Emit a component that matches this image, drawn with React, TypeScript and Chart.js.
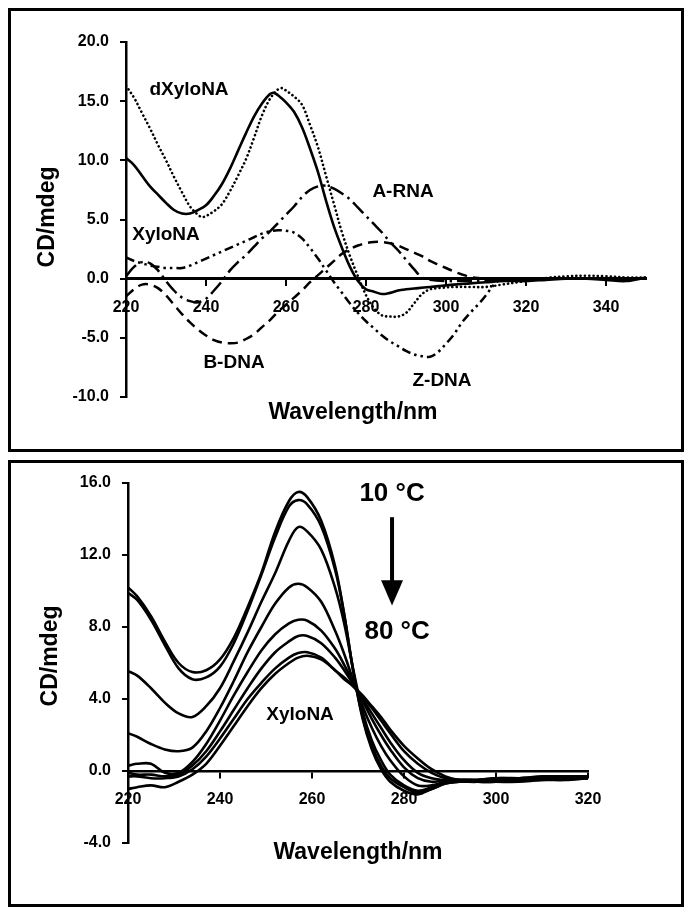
import { useEffect, useRef } from "react";
import { Chart, registerables } from "chart.js";

Chart.register(...registerables);

const FONT = "'Liberation Sans', Arial, Helvetica, sans-serif";

// ---------------- Top panel data (wavelength nm, CD mdeg) ----------------
const topXTicks = [220, 240, 260, 280, 300, 320, 340];
const topYTicks = [-10, -5, 0, 5, 10, 15, 20];

const xyloNA: [number, number][] = [
  [220, 10.2], [222, 9.6], [224, 8.7], [226, 7.8], [228, 7.1], [230, 6.4], [232, 5.8], [234, 5.5],
  [236, 5.5], [238, 5.8], [240, 6.2], [242, 7.0], [244, 8.0], [246, 9.3], [248, 10.8], [250, 12.3],
  [252, 13.7], [254, 14.8], [256, 15.6], [257, 15.7], [258, 15.5], [260, 14.9], [262, 14.1], [264, 12.8],
  [266, 11.0], [268, 9.0], [270, 6.6], [272, 4.4], [274, 2.6], [276, 1.0], [278, -0.2], [280, -0.9],
  [282, -1.1], [284, -1.3], [286, -1.2], [288, -1.0], [290, -0.9], [293, -0.8], [296, -0.7], [299, -0.6],
  [302, -0.5], [306, -0.4], [310, -0.3], [315, -0.2], [320, -0.2], [325, -0.1], [330, 0.0], [335, 0.0],
  [340, -0.1], [345, -0.2], [350, 0.1],
];

const dXyloNA: [number, number][] = [
  [220, 16.3], [222, 15.3], [224, 14.0], [226, 12.7], [228, 11.3], [230, 10.0], [232, 8.6], [234, 7.3],
  [236, 6.1], [238, 5.4], [239, 5.2], [240, 5.3], [242, 5.7], [244, 6.3], [246, 7.4], [248, 8.7],
  [250, 10.1], [252, 11.9], [254, 13.8], [256, 15.2], [258, 16.0], [259, 16.1], [260, 15.9], [262, 15.4],
  [264, 14.7], [266, 13.0], [268, 11.1], [270, 8.7], [272, 6.3], [274, 3.9], [276, 1.9], [278, 0.2],
  [280, -1.4], [282, -2.5], [284, -3.1], [286, -3.2], [288, -3.2], [290, -2.9], [292, -2.1], [294, -1.3],
  [296, -0.9], [298, -0.8], [302, -0.7], [306, -0.7], [310, -0.7], [314, -0.5], [318, -0.3], [322, -0.1],
  [326, 0.1], [330, 0.2], [335, 0.25], [340, 0.2], [345, 0.1], [350, 0.1],
];

const aRNA: [number, number][] = [
  [220, 0.2], [222, 1.0], [224, 1.4], [226, 1.3], [228, 0.7], [230, -0.2], [232, -1.0], [234, -1.6],
  [236, -1.9], [238, -2.0], [240, -1.7], [242, -1.0], [244, -0.2], [246, 0.7], [248, 1.4], [250, 2.0],
  [252, 2.7], [254, 3.4], [256, 4.0], [258, 4.7], [260, 5.4], [262, 6.1], [264, 6.9], [266, 7.5],
  [268, 7.8], [270, 7.85], [272, 7.6], [274, 7.2], [276, 6.7], [278, 6.0], [280, 5.3], [282, 4.6],
  [284, 3.9], [286, 3.1], [288, 2.4], [290, 1.6], [292, 0.8], [294, 0.1], [296, -0.1], [300, -0.2],
  [305, -0.2], [310, -0.2], [315, -0.1], [320, 0.0],
];

const bDNA: [number, number][] = [
  [220, -1.5], [222, -0.9], [224, -0.5], [226, -0.5], [228, -0.8], [230, -1.4], [232, -2.2], [234, -3.0],
  [236, -3.7], [238, -4.3], [240, -4.8], [242, -5.2], [244, -5.4], [246, -5.45], [248, -5.4], [250, -5.1],
  [252, -4.7], [254, -4.1], [256, -3.5], [258, -2.8], [260, -2.2], [262, -1.6], [264, -1.0], [266, -0.3],
  [268, 0.3], [270, 0.9], [272, 1.5], [274, 2.1], [276, 2.5], [278, 2.8], [280, 3.0], [282, 3.1],
  [284, 3.1], [286, 3.0], [288, 2.8], [290, 2.5], [292, 2.2], [294, 1.9], [296, 1.5], [298, 1.2],
  [300, 0.9], [302, 0.6], [304, 0.35], [306, 0.15], [308, 0.05], [310, 0.0], [315, -0.1], [320, 0.0],
];

const zDNA: [number, number][] = [
  [220, 1.8], [222, 1.5], [224, 1.3], [226, 1.1], [228, 1.0], [230, 0.9], [232, 0.9], [234, 0.9],
  [236, 1.1], [238, 1.4], [240, 1.7], [242, 2.0], [244, 2.3], [246, 2.6], [248, 2.9], [250, 3.2],
  [252, 3.5], [254, 3.8], [256, 4.0], [258, 4.1], [260, 4.05], [262, 3.9], [264, 3.4], [266, 2.6],
  [268, 1.7], [270, 0.7], [272, -0.3], [274, -1.2], [276, -2.1], [278, -2.9], [280, -3.6], [282, -4.2],
  [284, -4.8], [286, -5.3], [288, -5.7], [290, -6.1], [292, -6.4], [294, -6.55], [296, -6.6], [298, -6.2],
  [300, -5.5], [302, -4.7], [304, -3.7], [306, -2.9], [308, -2.2], [310, -1.4], [312, -0.5], [314, 0.0],
  [317, 0.0], [320, 0.0],
];

// ---------------- Bottom panel data (temperature series 10 -> 80 °C) ----------------
const bottomXTicks = [220, 240, 260, 280, 300, 320];
const bottomYTicks = [-4, 0, 4, 8, 12, 16];
const bottomWl = [220, 222, 225, 228, 231, 234, 237, 240, 243, 246, 249, 252, 255, 257, 259, 262, 265, 267,
  269, 271, 273, 275, 277, 280, 283, 286, 289, 292, 296, 300, 305, 310, 315, 320];

const cdT1 = [10.2, 9.7, 8.6, 7.2, 6.0, 5.5, 5.6, 6.2, 7.4, 9.1, 11.0, 13.3, 15.0, 15.5, 15.2, 13.9, 11.4, 8.7,
  5.5, 2.9, 1.2, 0.1, -0.6, -1.1, -1.3, -1.0, -0.7, -0.6, -0.5, -0.5, -0.4, -0.4, -0.3, -0.3];
const cdT2 = [9.9, 9.5, 8.4, 7.0, 5.7, 5.1, 5.2, 5.8, 7.1, 8.9, 10.9, 13.0, 14.7, 15.05, 14.8, 13.6, 11.2, 8.7,
  5.5, 3.0, 1.4, 0.3, -0.4, -0.9, -1.2, -1.0, -0.7, -0.6, -0.6, -0.5, -0.5, -0.4, -0.4, -0.4];
const cdT3 = [5.55, 5.3, 4.6, 3.8, 3.2, 3.0, 3.6, 4.6, 6.1, 7.7, 9.4, 11.0, 12.8, 13.55, 13.3, 12.3, 10.2, 8.2,
  5.6, 3.3, 1.7, 0.6, -0.2, -0.8, -1.1, -0.9, -0.6, -0.5, -0.5, -0.4, -0.4, -0.4, -0.3, -0.3];
const cdT4 = [2.1, 1.9, 1.5, 1.2, 1.1, 1.3, 2.2, 3.5, 5.0, 6.6, 8.0, 9.3, 10.2, 10.4, 10.2, 9.4, 7.8, 6.5,
  5.0, 3.6, 2.4, 1.4, 0.6, -0.3, -0.8, -0.8, -0.6, -0.5, -0.5, -0.5, -0.4, -0.4, -0.4, -0.3];
const cdT5 = [0.3, 0.4, 0.4, -0.1, -0.1, 0.5, 1.5, 2.8, 4.2, 5.5, 6.7, 7.6, 8.2, 8.4, 8.35, 7.8, 6.8, 5.9,
  4.9, 3.9, 2.9, 2.0, 1.2, 0.2, -0.4, -0.6, -0.5, -0.5, -0.5, -0.4, -0.4, -0.3, -0.3, -0.3];
const cdT6 = [-0.1, -0.2, -0.2, -0.3, -0.2, 0.3, 1.1, 2.2, 3.4, 4.6, 5.7, 6.6, 7.2, 7.5, 7.5, 7.1, 6.3, 5.6,
  4.8, 4.0, 3.2, 2.4, 1.6, 0.6, -0.1, -0.4, -0.5, -0.5, -0.6, -0.5, -0.5, -0.4, -0.4, -0.4];
const cdT7 = [-0.3, -0.3, -0.4, -0.4, -0.3, 0.1, 0.8, 1.8, 2.9, 4.0, 4.9, 5.7, 6.3, 6.55, 6.6, 6.3, 5.6, 5.2,
  4.7, 4.1, 3.5, 2.8, 2.1, 1.1, 0.4, -0.1, -0.4, -0.5, -0.6, -0.6, -0.5, -0.5, -0.4, -0.4];
const cdT8 = [-1.0, -0.9, -0.8, -0.9, -0.6, -0.2, 0.4, 1.4, 2.5, 3.6, 4.6, 5.4, 6.0, 6.3, 6.4, 6.2, 5.6, 5.1,
  4.7, 4.2, 3.6, 3.0, 2.3, 1.4, 0.7, 0.1, -0.3, -0.5, -0.6, -0.6, -0.6, -0.5, -0.5, -0.4];
const bottomSeries = [cdT1, cdT2, cdT3, cdT4, cdT5, cdT6, cdT7, cdT8];

// ---------------- helpers ----------------
type Note = { text: string; x: number; y: number; size: number };
type Title = { text: string; px: number; py: number; size: number; rotate?: boolean };
type Arrow = { x: number; y0: number; y1: number; headY: number };

const tickFont = { family: FONT, size: 16, weight: "bold" as const };

function notesPlugin(notes: Note[], titles: Title[], arrow?: Arrow) {
  return {
    id: "notes",
    afterDraw(chart: any) {
      const { ctx, scales } = chart;
      const sx = scales.x, sy = scales.y;
      ctx.save();
      ctx.fillStyle = "#000";
      ctx.strokeStyle = "#000";
      ctx.textAlign = "center";
      ctx.textBaseline = "middle";
      for (const n of notes) {
        ctx.font = `bold ${n.size}px ${FONT}`;
        ctx.fillText(n.text, sx.getPixelForValue(n.x), sy.getPixelForValue(n.y));
      }
      for (const t of titles) {
        ctx.font = `bold ${t.size}px ${FONT}`;
        if (t.rotate) {
          ctx.save();
          ctx.translate(t.px, t.py);
          ctx.rotate(-Math.PI / 2);
          ctx.fillText(t.text, 0, 0);
          ctx.restore();
        } else {
          ctx.fillText(t.text, t.px, t.py);
        }
      }
      if (arrow) {
        const ax = sx.getPixelForValue(arrow.x);
        const ay0 = sy.getPixelForValue(arrow.y0);
        const ay1 = sy.getPixelForValue(arrow.y1);
        const ah = sy.getPixelForValue(arrow.headY);
        ctx.lineWidth = 4;
        ctx.beginPath();
        ctx.moveTo(ax, ay0);
        ctx.lineTo(ax, ah + 2);
        ctx.stroke();
        ctx.beginPath();
        ctx.moveTo(ax - 11, ah);
        ctx.lineTo(ax + 11, ah);
        ctx.lineTo(ax, ay1);
        ctx.closePath();
        ctx.fill();
      }
      ctx.restore();
    },
  };
}

function axes(xMin: number, xMax: number, xTicks: number[], yMin: number, yMax: number, yTicks: number[], zeroWidth: number) {
  return {
    x: {
      type: "linear" as const,
      min: xMin,
      max: xMax,
      position: { y: 0 },
      afterBuildTicks: (s: any) => { s.ticks = xTicks.map((v) => ({ value: v })); },
      ticks: { font: tickFont, color: "#000", padding: 13, maxRotation: 0, autoSkip: false, callback: (v: any) => String(v) },
      grid: { drawOnChartArea: false, drawTicks: true, tickLength: 6, color: "#000", lineWidth: 2 },
      border: { display: true, color: "#000", width: zeroWidth },
    },
    y: {
      type: "linear" as const,
      min: yMin,
      max: yMax,
      afterBuildTicks: (s: any) => { s.ticks = yTicks.map((v) => ({ value: v })); },
      afterFit: (s: any) => { s.width = 80; },
      ticks: { font: tickFont, color: "#000", padding: 11, callback: (v: any) => Number(v).toFixed(1) },
      grid: { drawOnChartArea: false, drawTicks: true, tickLength: 6, color: "#000", lineWidth: 2 },
      border: { display: true, color: "#000", width: 2.5 },
    },
  };
}

const toPts = (arr: [number, number][]) => arr.map(([x, y]) => ({ x, y }));

function line(data: { x: number; y: number }[], dash: number[], width = 2.5, cap: "butt" | "round" = "butt") {
  return {
    data,
    borderColor: "#000",
    backgroundColor: "#000",
    borderWidth: width,
    borderDash: dash,
    borderCapStyle: cap,
    pointRadius: 0,
    tension: 0.35,
    fill: false,
  };
}

export default function App() {
  const topRef = useRef<HTMLCanvasElement>(null);
  const botRef = useRef<HTMLCanvasElement>(null);

  useEffect(() => {
    const common = {
      animation: false as const,
      responsive: false,
      devicePixelRatio: 1,
      plugins: { legend: { display: false }, tooltip: { enabled: false }, title: { display: false } },
    };

    const top = new Chart(topRef.current!, {
      type: "line",
      data: {
        datasets: [
          line(toPts(bDNA), [10, 6]),
          line(toPts(aRNA), [15, 5, 2.5, 5]),
          line(toPts(zDNA), [9, 4, 2.5, 4, 2.5, 4]),
          line(toPts(dXyloNA), [0.1, 4.2], 2.6, "round"),
          line(toPts(xyloNA), [], 2.6),
        ],
      },
      options: {
        ...common,
        layout: { padding: { left: 46, right: 47, top: 42, bottom: 59 } },
        scales: axes(220, 350, topXTicks, -10, 20, topYTicks, 3) as any,
      },
      plugins: [
        notesPlugin(
          [
            { text: "dXyloNA", x: 235.75, y: 15.95, size: 19 },
            { text: "A-RNA", x: 289.25, y: 7.34, size: 19 },
            { text: "XyloNA", x: 230, y: 3.71, size: 19 },
            { text: "B-DNA", x: 247, y: -7.09, size: 19 },
            { text: "Z-DNA", x: 299, y: -8.61, size: 19 },
          ],
          [
            { text: "Wavelength/nm", px: 353, py: 413, size: 23 },
            { text: "CD/mdeg", px: 48, py: 217, size: 23, rotate: true },
          ]
        ),
      ],
    } as any);

    const bot = new Chart(botRef.current!, {
      type: "line",
      data: {
        datasets: bottomSeries.map((s) => line(bottomWl.map((w, i) => ({ x: w, y: s[i] })), [], 2.6)),
      },
      options: {
        ...common,
        layout: { padding: { left: 48, right: 105, top: 27, bottom: 70 } },
        scales: axes(220, 320, bottomXTicks, -4, 16, bottomYTicks, 2.5) as any,
      },
      plugins: [
        notesPlugin(
          [
            { text: "10 °C", x: 277.4, y: 15.39, size: 26 },
            { text: "80 °C", x: 278.5, y: 7.72, size: 26 },
            { text: "XyloNA", x: 257.4, y: 3.11, size: 19 },
          ],
          [
            { text: "Wavelength/nm", px: 358, py: 397, size: 23 },
            { text: "CD/mdeg", px: 51, py: 200, size: 23, rotate: true },
          ],
          { x: 277.4, y0: 14.1, y1: 9.2, headY: 10.6 }
        ),
      ],
    } as any);

    return () => {
      top.destroy();
      bot.destroy();
    };
  }, []);

  const box = (top: number, height: number) => ({
    position: "absolute" as const,
    left: 8,
    top,
    width: 676,
    height,
    border: "3px solid #000",
    boxSizing: "border-box" as const,
  });

  return (
    <div style={{ position: "absolute", left: 0, top: 0, width: 693, height: 913, background: "#fff", overflow: "hidden" }}>
      <div style={box(8, 444)} />
      <div style={box(460, 447)} />
      <canvas ref={topRef} width={693} height={456} style={{ position: "absolute", left: 0, top: 0, width: 693, height: 456 }} />
      <canvas ref={botRef} width={693} height={457} style={{ position: "absolute", left: 0, top: 456, width: 693, height: 457 }} />
    </div>
  );
}
